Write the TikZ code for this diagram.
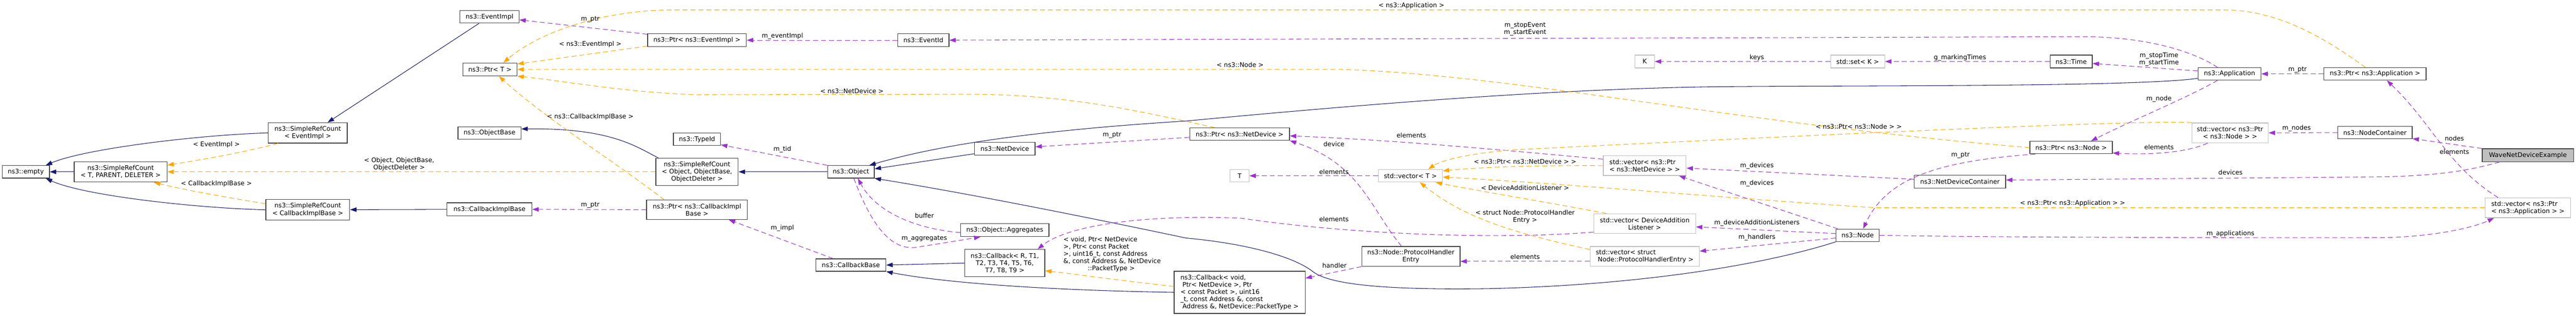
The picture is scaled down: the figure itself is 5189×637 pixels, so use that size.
\documentclass[tikz,border=0pt]{standalone}
\usepackage{fontspec}
\setmainfont{DejaVu Sans}
\usetikzlibrary{arrows.meta}
\definecolor{inhcol}{HTML}{191970}
\definecolor{usecol}{HTML}{9A32CD}
\definecolor{tplcol}{HTML}{FFA500}
\definecolor{boxcol}{HTML}{404040}
\definecolor{extcol}{HTML}{BFBFBF}
\definecolor{maincol}{HTML}{BFBFBF}

\begin{document}
\begin{tikzpicture}[x=1pt, y=-1pt, font=\fontsize{12.8}{14.6}\selectfont,
  cls/.style={draw=boxcol, line width=1.3pt, fill=white, inner sep=1pt, align=center},
  ext/.style={cls, draw=extcol},
  main/.style={cls, fill=maincol},
  lbl/.style={inner sep=0pt, align=center},
  inh/.style={draw=inhcol, line width=1.1pt, -{Triangle[length=13pt,width=9pt]}},
  use/.style={draw=usecol, line width=1.1pt, dash pattern=on 10pt off 6pt, -{Triangle[length=13pt,width=9pt]}},
  tpl/.style={draw=tplcol, line width=1.1pt, dash pattern=on 10pt off 6pt, -{Triangle[length=13pt,width=9pt]}}]
\useasboundingbox (0,0) rectangle (5189,637);

\node[cls, minimum width=95, minimum height=25] (empty) at (52,346.5) {ns3::empty};
\node[cls, minimum width=187, minimum height=41] (srcT) at (243,346.5) {ns3::SimpleRefCount\\< T, PARENT, DELETER >};
\node[cls, minimum width=159, minimum height=41] (srcEv) at (620,268) {ns3::SimpleRefCount\\< EventImpl >};
\node[cls, minimum width=169, minimum height=41] (srcCb) at (620,423) {ns3::SimpleRefCount\\< CallbackImplBase >};
\node[cls, minimum width=119, minimum height=25] (evImpl) at (986,34) {ns3::EventImpl};
\node[cls, minimum width=109, minimum height=26] (ptrT) at (987,140) {ns3::Ptr< T >};
\node[cls, minimum width=199, minimum height=26] (ptrEv) at (1404,81) {ns3::Ptr< ns3::EventImpl >};
\node[cls, minimum width=127, minimum height=25] (objBase) at (986,268) {ns3::ObjectBase};
\node[cls, minimum width=95, minimum height=25] (typeId) at (1404,281) {ns3::TypeId};
\node[cls, minimum width=166, minimum height=55] (srcObj) at (1404,346.5) {ns3::SimpleRefCount\\< Object, ObjectBase,\\ObjectDeleter >};
\node[cls, minimum width=94, minimum height=25] (object) at (1714,346.5) {ns3::Object};
\node[cls, minimum width=171, minimum height=26] (cbImpl) at (986,422) {ns3::CallbackImplBase};
\node[cls, minimum width=203, minimum height=39] (ptrCb) at (1404,423) {ns3::Ptr< ns3::CallbackImpl\\Base >};
\node[cls, minimum width=141, minimum height=25] (cbBase) at (1714,534.5) {ns3::CallbackBase};
\node[cls, minimum width=103, minimum height=26] (eventId) at (1860,81) {ns3::EventId};
\node[cls, minimum width=201, minimum height=25] (ptrNd) at (2497,270.5) {ns3::Ptr< ns3::NetDevice >};
\node[cls, minimum width=122, minimum height=26] (netDev) at (2024,300) {ns3::NetDevice};
\node[ext, minimum width=38, minimum height=25] (tT) at (2497,354.5) {T};
\node[cls, minimum width=178, minimum height=26] (aggr) at (2024,464) {ns3::Object::Aggregates};
\node[cls, minimum width=161, minimum height=55] (cbR) at (2024,530.5) {ns3::Callback< R, T1,\\T2, T3, T4, T5, T6,\\T7, T8, T9 >};
\node[cls, minimum width=264, minimum height=85, align=left] (cbVoid) at (2497,589.5) {ns3::Callback< void,\\\kern4pt Ptr< NetDevice >, Ptr\\< const Packet >, uint16\\\_t, const Address \&, const\\\kern4pt Address \&, NetDevice::PacketType >};
\node[cls, minimum width=127, minimum height=25] (app) at (4491,149) {ns3::Application};
\node[cls, minimum width=206, minimum height=25] (ptrApp) at (4784,149) {ns3::Ptr< ns3::Application >};
\node[ext, minimum width=39, minimum height=26] (kK) at (3313,124) {K};
\node[ext, minimum width=129, minimum height=25] (vecT) at (2841,354.5) {std::vector< T >};
\node[ext, minimum width=167, minimum height=40, align=left] (vecNd) at (3313,334) {std::vector< ns3::Ptr\\< ns3::NetDevice > >};
\node[ext, minimum width=205, minimum height=40] (vecDal) at (3313,451) {std::vector< DeviceAddition\\Listener >};
\node[cls, minimum width=198, minimum height=40] (phe) at (2842,517) {ns3::Node::ProtocolHandler\\Entry};
\node[ext, minimum width=220, minimum height=40, align=left] (vecPhe) at (3313,517) {std::vector< struct\\\kern4pt Node::ProtocolHandlerEntry >};
\node[ext, minimum width=109, minimum height=26] (setK) at (3742,124) {std::set< K >};
\node[cls, minimum width=85, minimum height=26] (time) at (4172,124) {ns3::Time};
\node[cls, minimum width=166, minimum height=25] (ptrNode) at (4172,297.5) {ns3::Ptr< ns3::Node >};
\node[cls, minimum width=184, minimum height=26] (ndc) at (3948,366) {ns3::NetDeviceContainer};
\node[cls, minimum width=87, minimum height=25] (nNode) at (3742,474.5) {ns3::Node};
\node[ext, minimum width=154, minimum height=40] (vecNode) at (4492,268) {std::vector< ns3::Ptr\\< ns3::Node > >};
\node[cls, minimum width=150, minimum height=25] (nc) at (4784,267.5) {ns3::NodeContainer};
\node[main, minimum width=184, minimum height=26] (wnde) at (5092,313) {WaveNetDeviceExample};
\node[ext, minimum width=172, minimum height=40, align=left] (vecApp) at (5092,419) {std::vector< ns3::Ptr\\< ns3::Application > >};

\draw[inh] (srcT) -- (empty);
\draw[inh] (srcEv.west) .. controls (400,272) and (170,300) .. ([xshift=-8]empty.north east);
\draw[inh] (srcCb.west) .. controls (400,420) and (170,395) .. ([xshift=-8]empty.south east);
\draw[inh] ([xshift=-21]evImpl.south) -- ([xshift=40]srcEv.north);
\draw[inh] (cbImpl) -- (srcCb);
\draw[inh] ([xshift=-78]srcObj.north) .. controls (1280,295) and (1230,258) .. ([yshift=8]objBase.east);
\draw[inh] (object) -- (srcObj);
\draw[inh] ([yshift=-10]netDev.west) -- ([yshift=6]object.east);
\draw[inh] ([yshift=-9]app.west) .. controls (4300,176) and (3700,172) .. (3450,175) .. controls (3100,180) and (2700,215) .. (2389,244) .. controls (2100,262) and (1900,290) .. ([xshift=37]object.north);
\draw[inh] (nNode.south west) .. controls (3550,535) and (3300,575) .. (3000,582) .. controls (2800,585) and (2680,575) .. (2645,548) .. controls (2610,520) and (2520,492) .. (2389,480) .. controls (2200,440) and (1950,390) .. (object.south east);
\draw[inh] (cbR.west) -- (cbBase.east);
\draw[inh] (cbVoid.west) .. controls (2100,585) and (1900,570) .. (cbBase.south east);

\draw[use] ([yshift=12]ptrEv.west) -- ([yshift=-6]evImpl.east);
\draw[use] (eventId) -- (ptrEv);
\draw[use] ([xshift=-24]app.north) .. controls (4420,105) and (4330,75) .. (4200,74) -- (eventId.east);
\draw[use] (object.north west) -- ([yshift=-11]typeId.east);
\draw[use] (ptrCb) -- (cbImpl);
\draw[use] ([xshift=-36]cbBase.north) -- ([xshift=64]ptrCb.south);
\draw[use] ([yshift=-5]aggr.west) .. controls (1830,460) and (1760,420) .. ([xshift=14]object.south);
\draw[use] ([xshift=6]object.south) .. controls (1750,440) and (1790,510) .. (1850,498) .. controls (1900,490) and (1950,482) .. ([xshift=-49]aggr.south);
\draw[use] ([yshift=-6.5]ptrNd.west) -- ([yshift=4]netDev.east);
\draw[use] ([yshift=13]vecNd.west) .. controls (3000,300) and (2800,282) .. ([yshift=-3.5]ptrNd.east);
\draw[use] ([xshift=-19]phe.north) .. controls (2760,420) and (2740,330) .. (ptrNd.south east);
\draw[use] (vecT) -- (tT);
\draw[use] ([yshift=-17]vecDal.west) .. controls (3000,485) and (2700,470) .. (2500,440) .. controls (2300,432) and (2150,455) .. ([xshift=-15]cbR.north east);
\draw[use] (phe.south west) -- ([yshift=28.5]cbVoid.east);
\draw[use] ([yshift=-10]vecPhe.west) -- ([yshift=-10]phe.east);
\draw[use] (setK) -- (kK);
\draw[use] (time) -- (setK);
\draw[use] ([yshift=6]app.west) -- ([yshift=-4]time.east);
\draw[use] ([xshift=-72]ptrNode.south) .. controls (3900,325) and (3800,360) .. ([xshift=11]nNode.north);
\draw[use] ([yshift=4.5]ndc.west) -- ([yshift=-5]vecNd.east);
\draw[use] ([xshift=-40]nNode.north) -- ([xshift=-15]vecNd.south east);
\draw[use] ([yshift=3.5]nNode.west) -- ([yshift=-6.5]vecDal.east);
\draw[use] ([yshift=-5.5]nNode.west) -- ([yshift=10.5]vecPhe.east);
\draw[use] ([xshift=-24]app.south) .. controls (4400,200) and (4300,240) .. ([xshift=40]ptrNode.north);
\draw[use] ([xshift=-45]vecNode.south) .. controls (4400,310) and (4320,312) .. ([yshift=-11]ptrNode.east);
\draw[use] (ptrApp) -- (app);
\draw[use] (nc) -- (vecNode);
\draw[use] (wnde.north west) -- ([yshift=-12]nc.east);
\draw[use] ([xshift=-57]wnde.south) .. controls (4970,345) and (4900,357) .. (4750,357) -- ([yshift=3]ndc.east);
\draw[use] ([xshift=-60]vecApp.north) .. controls (4930,335) and (4900,250) .. ([xshift=24]ptrApp.south);
\draw[use] (nNode.east) .. controls (4000,479) and (4700,480) .. (4806,479) .. controls (4900,477) and (4980,460) .. ([xshift=-68]vecApp.south);

\draw[tpl] ([xshift=-60]srcEv.south) .. controls (500,305) and (420,320) .. ([yshift=13.5]srcT.east);
\draw[tpl] (srcObj) -- (srcT);
\draw[tpl] ([yshift=12]srcCb.west) .. controls (470,400) and (380,385) .. ([xshift=67]srcT.south);
\draw[tpl] ([xshift=-19]ptrApp.north) .. controls (4700,90) and (4600,20) .. (4480,20) -- (1350,20) .. controls (1200,22) and (1080,70) .. ([xshift=27]ptrT.north);
\draw[tpl] ([yshift=-12]ptrEv.west) -- ([yshift=11]ptrT.east);
\draw[tpl] (ptrNode.west) .. controls (3500,250) and (3050,150) .. (2700,140) -- (ptrT.east);
\draw[tpl] ([xshift=-50]ptrNd.north) .. controls (2300,225) and (2150,190) .. (1950,190) -- (1400,191) .. controls (1250,185) and (1150,165) .. (ptrT.south east);
\draw[tpl] ([xshift=-66]ptrCb.north) .. controls (1230,320) and (1100,240) .. ([xshift=18]ptrT.south);
\draw[tpl] ([xshift=-77]vecNode.north) .. controls (4300,240) and (3400,285) .. (3050,302) .. controls (2950,310) and (2900,325) .. ([xshift=36]vecT.north);
\draw[tpl] (vecNd.west) .. controls (3050,333) and (2950,340) .. ([yshift=10]vecT.east);
\draw[tpl] ([xshift=-77]vecDal.north) .. controls (3100,405) and (2950,380) .. ([xshift=51]vecT.south);
\draw[tpl] ([yshift=14]vecPhe.west) .. controls (3050,470) and (2950,440) .. ([xshift=19]vecT.south);
\draw[tpl] (vecApp.west) -- (3780,419) .. controls (3550,405) and (3150,370) .. ([yshift=-2.5]vecT.east);
\draw[tpl] ([yshift=12]cbVoid.west) .. controls (2250,565) and (2160,552) .. ([yshift=-15.5]cbR.east);

\node[lbl] (lEventImpl) at (436,292) {< EventImpl >};
\node[lbl] (lCbImplBase) at (436,371) {< CallbackImplBase >};
\node[lbl] (lObjTpl) at (804,331) {< Object, ObjectBase,\\ObjectDeleter >};
\node[lbl] (lPtrEv) at (1189,39) {m\_ptr};
\node[lbl] (lEvTpl) at (1189,89) {< ns3::EventImpl >};
\node[lbl] (lEventImplM) at (1576,73) {m\_eventImpl};
\node[lbl] (lNdTpl) at (1716,184) {< ns3::NetDevice >};
\node[lbl] (lCbTpl) at (1189,236) {< ns3::CallbackImplBase >};
\node[lbl] (lTid) at (1576,301) {m\_tid};
\node[lbl] (lPtrCb) at (1189,414) {m\_ptr};
\node[lbl] (lImpl) at (1576,460) {m\_impl};
\node[lbl] (lBuffer) at (1862,435) {buffer};
\node[lbl] (lAggr) at (1862,481) {m\_aggregates};
\node[lbl] (lPtrNd) at (2240,273) {m\_ptr};
\node[lbl, anchor=west, align=left] (lCbVoidTpl) at (2142,513) {< void, Ptr< NetDevice\\>, Ptr< const Packet\\>, uint16\_t, const Address\\\&, const Address \&, NetDevice\\\hspace*{49pt}::PacketType >};
\node[lbl] (lNodeTpl) at (2498,131) {< ns3::Node >};
\node[lbl] (lAppTpl) at (2843,11) {< ns3::Application >};
\node[lbl] (lEvents) at (3072,59) {m\_stopEvent\\m\_startEvent};
\node[lbl] (lElemNd) at (2843,273) {elements};
\node[lbl] (lDevice) at (2687,290) {device};
\node[lbl] (lElemT) at (2687,347) {elements};
\node[lbl] (lVecNdTpl) at (3072,326) {< ns3::Ptr< ns3::NetDevice > >};
\node[lbl] (lDalTpl) at (3072,379) {< DeviceAdditionListener >};
\node[lbl] (lPheTpl) at (3072,437) {< struct Node::ProtocolHandler\\Entry >};
\node[lbl] (lElemDal) at (2687,442) {elements};
\node[lbl] (lElemPhe) at (3072,518) {elements};
\node[lbl] (lHandler) at (2688,535) {handler};
\node[lbl] (lKeys) at (3539,116) {keys};
\node[lbl] (lMarking) at (3948,116) {g\_markingTimes};
\node[lbl] (lVecNodeTpl) at (3744,255) {< ns3::Ptr< ns3::Node > >};
\node[lbl] (lPtrNode) at (3949,313) {m\_ptr};
\node[lbl] (lDevNdc) at (3539,334) {m\_devices};
\node[lbl] (lDevNode) at (3539,370) {m\_devices};
\node[lbl] (lVecAppTpl) at (4175,410) {< ns3::Ptr< ns3::Application > >};
\node[lbl] (lListeners) at (3539,450) {m\_deviceAdditionListeners};
\node[lbl] (lHandlers) at (3539,479) {m\_handlers};
\node[lbl] (lTimes) at (4349,120) {m\_stopTime\\m\_startTime};
\node[lbl] (lPtrApp) at (4628,141) {m\_ptr};
\node[lbl] (lMNode) at (4349,199.5) {m\_node};
\node[lbl] (lMNodes) at (4626,259) {m\_nodes};
\node[lbl] (lElemNode) at (4349,297) {elements};
\node[lbl] (lNodes) at (4944,279.5) {nodes};
\node[lbl] (lElemApp) at (4944,306) {elements};
\node[lbl] (lDevices) at (4493,348) {devices};
\node[lbl] (lApps) at (4493,471) {m\_applications};
\end{tikzpicture}
\end{document}
